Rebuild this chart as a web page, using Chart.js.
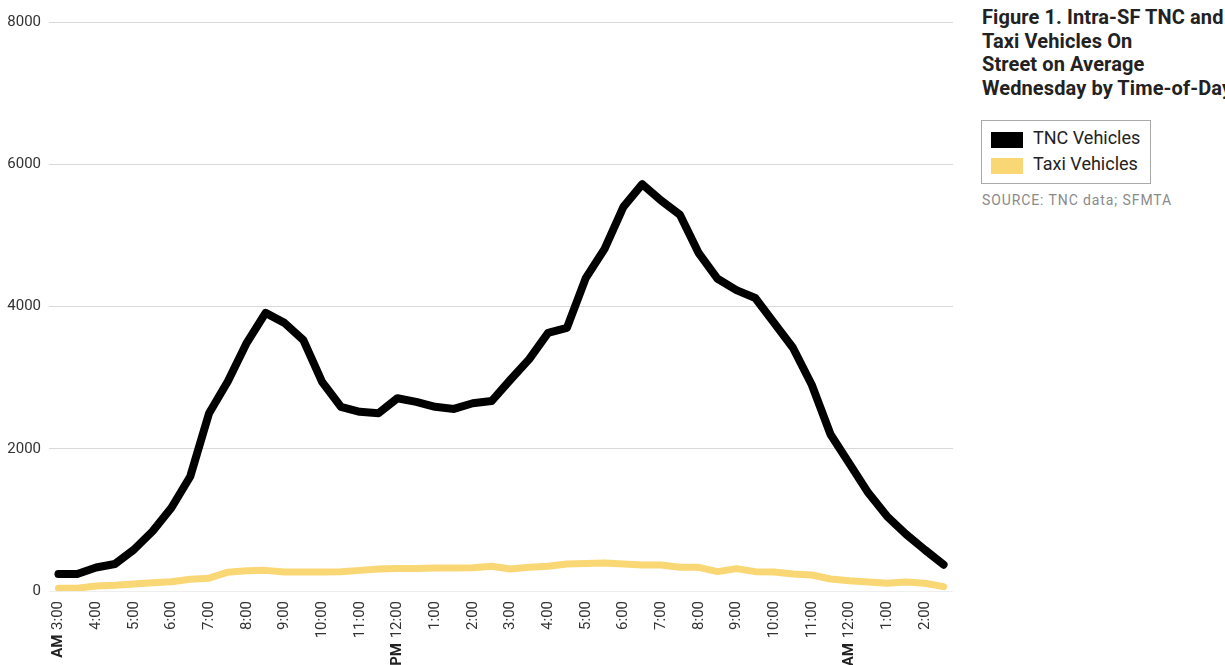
<!DOCTYPE html>
<html>
<head>
<meta charset="utf-8">
<script src="https://cdn.jsdelivr.net/npm/chart.js@4/dist/chart.umd.min.js"></script>
<style>
  html, body { margin: 0; padding: 0; background: #fff; overflow: hidden; }
  body { width: 1225px; height: 665px; position: relative; font-family: Roboto, "Noto Sans", sans-serif; }
  #chartWrap { position: absolute; left: 0; top: 0; width: 960px; height: 665px; }
  #side { position: absolute; left: 982px; top: 0; width: 260px; white-space: nowrap; }
  #title { position: absolute; left: 0; top: 6px; font-weight: 700; font-size: 20px; line-height: 23.5px; color: #222; letter-spacing: 0.1px; }
  #legend { position: absolute; left: -1px; top: 120px; width: 168px; height: 62px; border: 1px solid #a9a9a9; }
  .item { position: absolute; left: 9px; height: 17px; font-size: 18px; color: #222; }
  .item span.sw { position: absolute; left: 0; top: 1px; width: 32px; height: 16px; }
  .item span.tx { position: absolute; left: 42px; top: -4px; line-height: 22px; }
  #source { position: absolute; left: 0; top: 192px; font-size: 14px; color: #8a8a8a; letter-spacing: 0.9px; }
</style>
</head>
<body>
<div id="chartWrap"><canvas id="tripChart" width="960" height="665"></canvas></div>
<div id="side">
  <div id="title">Figure 1. Intra-SF TNC and<br>Taxi Vehicles On<br>Street on Average<br>Wednesday by Time-of-Day</div>
  <div id="legend">
    <div class="item" style="top:10px"><span class="sw" style="background:#000"></span><span class="tx">TNC Vehicles</span></div>
    <div class="item" style="top:36px"><span class="sw" style="background:#f9d774"></span><span class="tx">Taxi Vehicles</span></div>
  </div>
  <div id="source">SOURCE: TNC data; SFMTA</div>
</div>
<script>
// half-hour slots, 3:00 AM through 2:30 AM
const times = [
    '3:00', '3:30', '4:00', '4:30', '5:00', '5:30', '6:00', '6:30', '7:00', '7:30', '8:00', '8:30',
    '9:00', '9:30', '10:00', '10:30', '11:00', '11:30', '12:00', '12:30', '1:00', '1:30', '2:00', '2:30',
    '3:00', '3:30', '4:00', '4:30', '5:00', '5:30', '6:00', '6:30', '7:00', '7:30', '8:00', '8:30',
    '9:00', '9:30', '10:00', '10:30', '11:00', '11:30', '12:00', '12:30', '1:00', '1:30', '2:00', '2:30'
];
const tncVehicles = [
    240, 240, 330, 380, 580, 840, 1170, 1610, 2500, 2950, 3490, 3910,
    3770, 3530, 2940, 2590, 2520, 2500, 2710, 2660, 2590, 2560, 2640, 2670,
    2970, 3260, 3630, 3700, 4400, 4810, 5400, 5720, 5490, 5290, 4750, 4390,
    4230, 4120, 3770, 3420, 2900, 2200, 1790, 1380, 1050, 800, 580, 370
];
const taxiVehicles = [
    40, 40, 70, 80, 100, 115, 130, 165, 180, 265, 285, 290,
    267, 267, 267, 270, 290, 310, 315, 315, 325, 325, 328, 347,
    310, 333, 347, 380, 385, 394, 380, 366, 366, 333, 333, 272,
    315, 272, 267, 240, 225, 169, 145, 127, 108, 127, 108, 61
];
const yTicks = [0, 2000, 4000, 6000, 8000];
// AM / PM markers under the tick labels
const periodIndex = [0, 18, 42];
const periodText = ['AM', 'PM', 'AM'];

const labelFont = '15px Roboto';

// bold AM/PM drawn after the rotated hour labels
const periodPlugin = {
    id: 'periodMarks',
    afterDraw(chart) {
        const ctx = chart.ctx;
        const xs = chart.scales.x;
        ctx.save();
        periodIndex.forEach((idx, k) => {
            const x = xs.getPixelForValue(idx);
            ctx.font = labelFont;
            const w = ctx.measureText(times[idx] + ' ').width;
            const y = xs.top + 10 + w + 1;
            ctx.translate(x, y);
            ctx.rotate(-Math.PI / 2);
            ctx.font = 'bold 15px Roboto';
            ctx.fillStyle = '#222';
            ctx.textAlign = 'right';
            ctx.textBaseline = 'middle';
            ctx.fillText(periodText[k], 0, 0);
            ctx.setTransform(1, 0, 0, 1, 0, 0);
        });
        ctx.restore();
    }
};

const config = {
    type: 'line',
    data: {
        labels: times,
        datasets: [
            {
                label: 'TNC Vehicles',
                data: tncVehicles,
                borderColor: '#000000',
                borderWidth: 8,
                pointRadius: 0,
                tension: 0,
                borderJoinStyle: 'round',
                borderCapStyle: 'round'
            },
            {
                label: 'Taxi Vehicles',
                data: taxiVehicles,
                borderColor: '#f9d774',
                borderWidth: 7,
                pointRadius: 0,
                tension: 0,
                borderJoinStyle: 'round',
                borderCapStyle: 'round'
            }
        ]
    },
    options: {
        responsive: false,
        animation: false,
        layout: { padding: { top: 22, right: 7, left: 0, bottom: 0 } },
        plugins: {
            legend: { display: false },
            tooltip: { enabled: false }
        },
        scales: {
            x: {
                offset: true,
                grid: { display: false, drawTicks: false },
                border: { display: false },
                afterFit: (scale) => {
                    scale.height = 74;
                    scale.paddingLeft = 0;
                    scale.paddingRight = 0;
                },
                ticks: {
                    autoSkip: false,
                    maxRotation: 90,
                    minRotation: 90,
                    padding: 10,
                    color: '#333',
                    font: { family: 'Roboto', size: 15 },
                    callback: function(value, index) {
                        const t = times[index];
                        return t.endsWith(':00') ? t : '';
                    }
                }
            },
            y: {
                min: 0,
                max: 8000,
                afterFit: (scale) => { scale.width = 49; },
                afterBuildTicks: (scale) => { scale.ticks = yTicks.map(v => ({ value: v })); },
                grid: {
                    drawTicks: false,
                    color: (c) => c.index === 0 ? '#eeeeee' : '#d9d9d9',
                    lineWidth: 1
                },
                border: { display: false },
                ticks: {
                    padding: 8,
                    color: '#333',
                    font: { family: 'Roboto', size: 15 },
                    callback: (v) => String(v)
                }
            }
        }
    },
    plugins: [periodPlugin]
};

const ctx = document.getElementById('tripChart').getContext('2d');
new Chart(ctx, config);
</script>
</body>
</html>
